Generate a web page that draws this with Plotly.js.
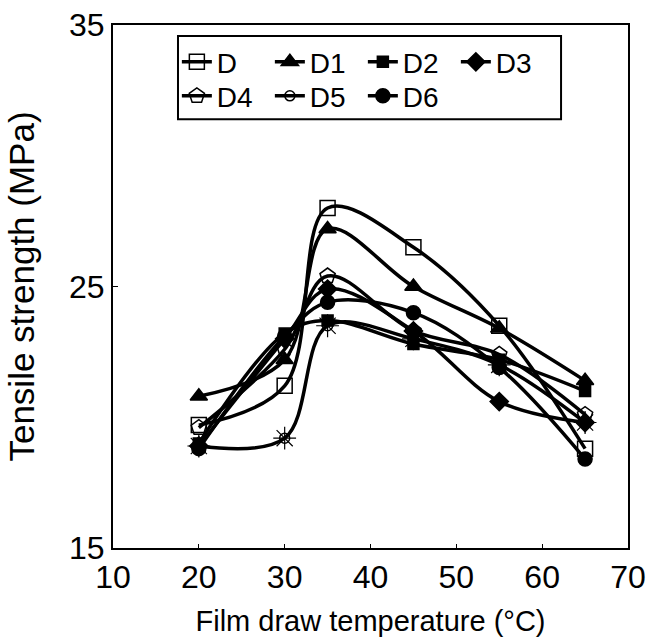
<!DOCTYPE html>
<html>
<head>
<meta charset="utf-8">
<script src="https://cdn.plot.ly/plotly-3.0.1.min.js"></script>
<style>html,body{margin:0;padding:0;background:#fff;}#chart{width:648px;height:638px;}</style>
</head>
<body>
<div id="chart"></div>
<script>
const temps = [20, 30, 35, 45, 55, 65];
const D  = [19.7, 21.2, 28.0, 26.5, 23.5, 18.8];
const D1 = [20.8, 22.2, 27.2, 25.0, 23.4, 21.4];
const D2 = [19.0, 23.2, 23.7, 22.8, 22.2, 21.0];
const D3 = [18.9, 23.0, 24.9, 23.3, 20.6, 19.8];
const D4 = [19.6, 22.6, 25.4, 23.3, 22.4, 20.1];
const D5 = [18.9, 19.2, 23.5, 23.0, 22.0, 19.8];
const D6 = [18.8, 23.1, 24.4, 24.0, 21.9, 18.4];

const seriesNames = ['D', 'D1', 'D2', 'D3', 'D4', 'D5', 'D6'];
const seriesData = [D, D1, D2, D3, D4, D5, D6];
const legendRows = ['legend', 'legend', 'legend', 'legend', 'legend2', 'legend2', 'legend2'];
const symbols = ['square-open', 'triangle-up', 'square', 'diamond', 'pentagon-open', 'circle-open', 'circle'];
const sizes = [15, 15, 11, 14, 16, 10, 14];

const traces = seriesNames.map((name, i) => ({
  x: temps, y: seriesData[i], name: name, type: 'scatter', mode: 'lines+markers',
  legendgroup: name, legend: legendRows[i],
  line: {color: '#000', width: 3.5, shape: 'spline', smoothing: 1},
  marker: {symbol: symbols[i], size: sizes[i], color: '#000', line: {color: '#000', width: 1.5}}
}));
// rays of the "sun" marker for D5
traces.push({
  x: temps, y: D5, name: 'D5', type: 'scatter', mode: 'markers', legendgroup: 'D5', showlegend: false,
  marker: {symbol: 'asterisk-open', size: 19, color: '#000', line: {color: '#000', width: 1.2}}
});

const legendCommon = {
  orientation: 'h', xanchor: 'left', yanchor: 'middle',
  borderwidth: 0, bgcolor: 'rgba(0,0,0,0)',
  font: {size: 28}, entrywidth: 48, entrywidthmode: 'pixels', itemwidth: 30
};

const layout = {
  width: 648, height: 638,
  margin: {l: 113, r: 20, t: 25, b: 90},
  paper_bgcolor: '#fff', plot_bgcolor: '#fff',
  font: {family: 'Liberation Sans, Arial, sans-serif', color: '#000', size: 28},
  showlegend: true,
  legend: Object.assign({x: 0.124, y: 0.929}, legendCommon),
  legend2: Object.assign({x: 0.124, y: 0.864}, legendCommon),
  shapes: [{
    type: 'rect', xref: 'paper', yref: 'paper',
    x0: 0.1262, x1: 0.870, y0: 0.82, y1: 0.979,
    line: {color: '#000', width: 2}, fillcolor: 'rgba(0,0,0,0)', layer: 'above'
  }],
  xaxis: {
    range: [10, 70], dtick: 10, tick0: 10, showgrid: false, zeroline: false,
    showline: true, linecolor: '#000', linewidth: 2, mirror: true,
    ticks: 'inside', ticklen: 4, tickcolor: '#000',
    tickfont: {size: 32},
    title: {text: 'Film draw temperature (°C)', font: {size: 29}, standoff: 16}
  },
  yaxis: {
    range: [15, 35], tickvals: [15, 25, 35], showgrid: false, zeroline: false,
    showline: true, linecolor: '#000', linewidth: 2, mirror: true,
    ticks: 'inside', ticklen: 5, tickcolor: '#000',
    tickfont: {size: 32},
    title: {text: 'Tensile strength (MPa)', font: {size: 35}, standoff: 24}
  }
};

Plotly.newPlot('chart', traces, layout, {staticPlot: true, displayModeBar: false});
</script>
</body>
</html>
